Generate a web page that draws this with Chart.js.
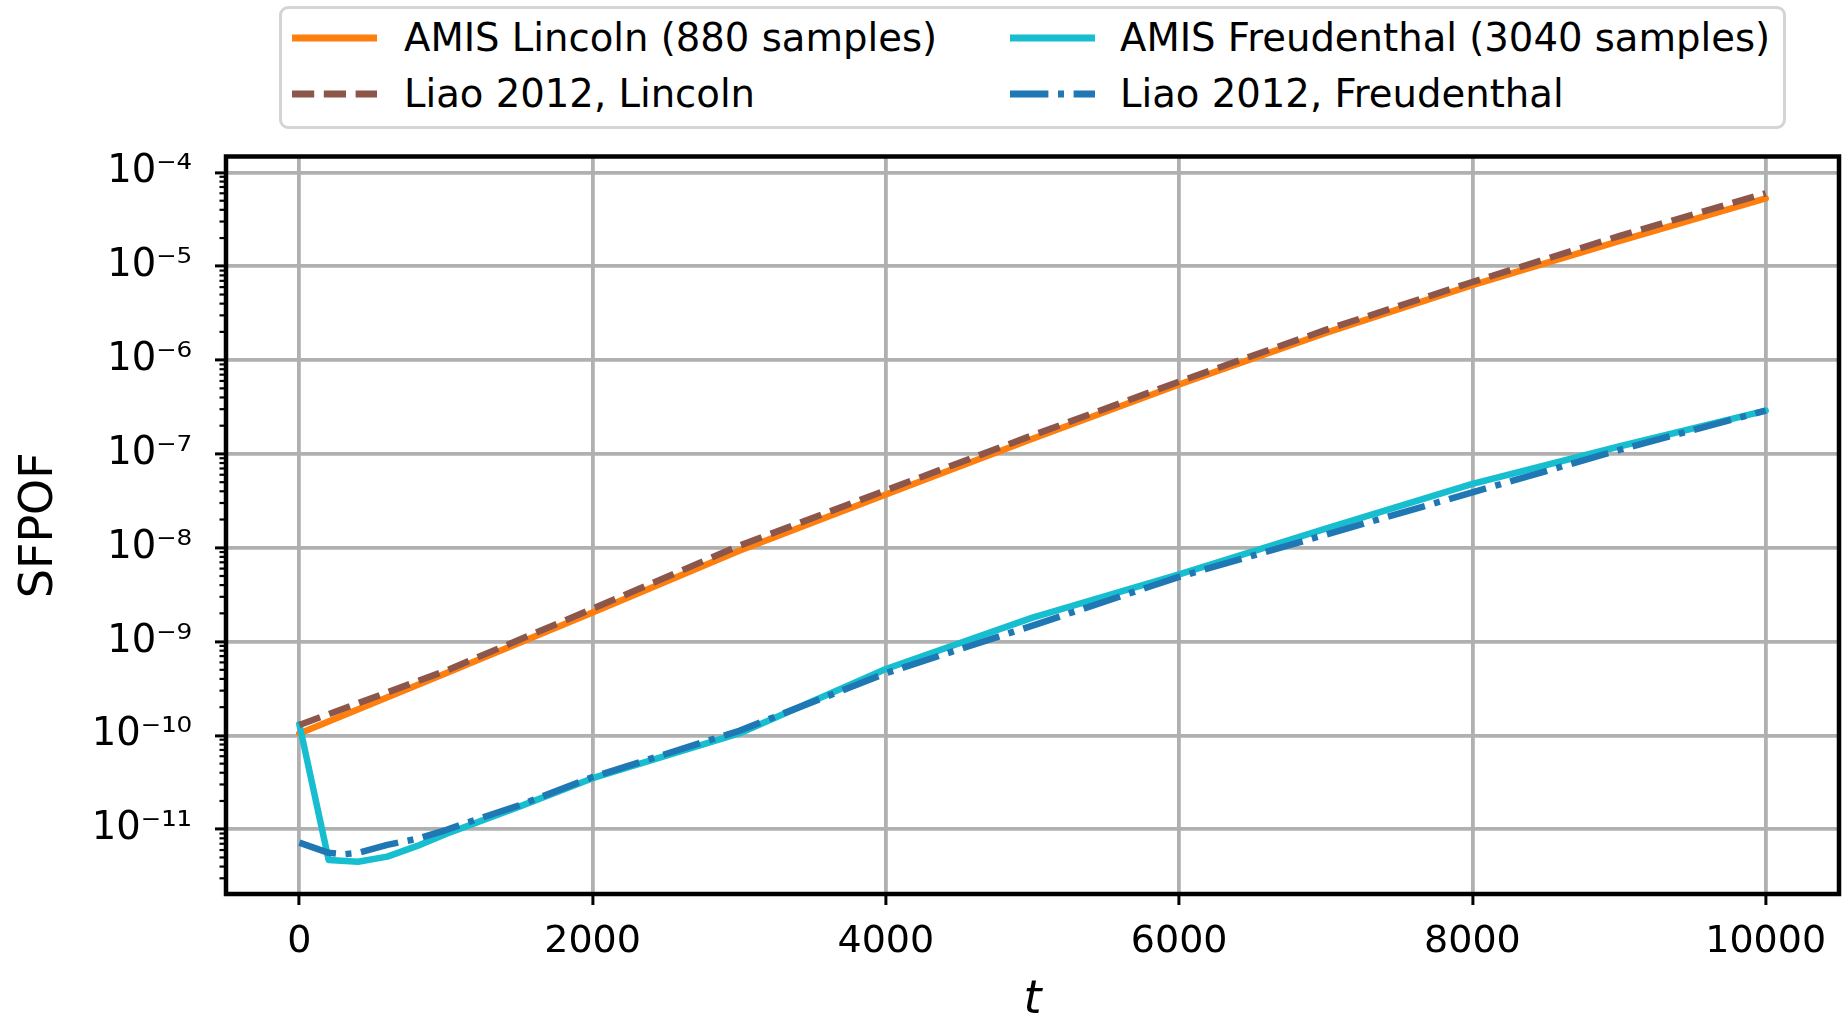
<!DOCTYPE html>
<html>
<head>
<meta charset="utf-8">
<script src="https://cdn.jsdelivr.net/npm/chart.js@4.4.0/dist/chart.umd.min.js"></script>
<style>
html,body{margin:0;padding:0;background:#fff;}
#wrap{position:relative;width:1845px;height:1023px;overflow:hidden;}
canvas{display:block;}
#legendBox{position:absolute;left:279px;top:6px;width:1507px;height:123px;box-sizing:border-box;border:3px solid #d4d4d4;border-radius:9px;background:#fff;}
.lg{position:absolute;white-space:nowrap;font-family:'DejaVu Sans';font-size:38.6px;line-height:normal;color:#000;}
.lh{position:absolute;width:85px;height:20px;}
</style>
</head>
<body>
<div id="wrap">
<canvas id="c" width="1845" height="1023"></canvas>
<div id="legendBox"></div>
<svg class="lh" style="left:292px;top:28px" width="85" height="20"><line x1="0" y1="10" x2="85" y2="10" stroke="#ff7f0e" stroke-width="7"/></svg>
<div class="lg" style="left:404px;top:15px">AMIS Lincoln (880 samples)</div>
<svg class="lh" style="left:1010px;top:28px" width="85" height="20"><line x1="0" y1="10" x2="85" y2="10" stroke="#17becf" stroke-width="7"/></svg>
<div class="lg" style="left:1120px;top:15px">AMIS Freudenthal (3040 samples)</div>
<svg class="lh" style="left:292px;top:84px" width="85" height="20"><line x1="0" y1="10" x2="85" y2="10" stroke="#8c564b" stroke-width="7" stroke-dasharray="22.2 9.6"/></svg>
<div class="lg" style="left:404px;top:71px">Liao 2012, Lincoln</div>
<svg class="lh" style="left:1010px;top:84px" width="85" height="20"><line x1="0" y1="10" x2="85" y2="10" stroke="#1f77b4" stroke-width="7" stroke-dasharray="38.4 9.6 6 9.6"/></svg>
<div class="lg" style="left:1120px;top:71px">Liao 2012, Freudenthal</div>
</div>
<script>
// ---- data ----
const tLincoln = [0, 1000, 2000, 3000, 4000, 5000, 6000, 7000, 8000, 9000, 10000];
const amisLincoln = [1.05e-10, 4.6e-10, 2.04e-9, 9.3e-9, 3.7e-8, 1.45e-7, 5.5e-7, 1.95e-6, 6.3e-6, 1.85e-5, 5.3e-5];
const liaoLincoln = [1.29e-10, 4.9e-10, 2.24e-9, 1.05e-8, 4.1e-8, 1.58e-7, 5.9e-7, 2.1e-6, 6.8e-6, 2.1e-5, 6.0e-5];

const tAmisFreud = [0, 200, 400, 600, 800, 1000, 1500, 2000, 3000, 4000, 5000, 6000, 7000, 8000, 9000, 10000];
const amisFreud = [1.32e-10, 4.7e-12, 4.5e-12, 5.1e-12, 6.6e-12, 8.9e-12, 1.74e-11, 3.5e-11, 1.05e-10, 5.1e-10, 1.8e-9, 5.2e-9, 1.6e-8, 4.8e-8, 1.2e-7, 2.9e-7];

const tLiaoFreud = [0, 200, 300, 400, 600, 800, 1000, 1200, 1500, 2000, 3000, 4000, 5000, 6000, 7000, 8000, 9000, 10000];
const liaoFreud = [7.2e-12, 5.6e-12, 5.4e-12, 5.6e-12, 6.8e-12, 7.9e-12, 9.8e-12, 1.26e-11, 1.8e-11, 3.6e-11, 1.12e-10, 4.6e-10, 1.48e-9, 4.9e-9, 1.38e-8, 3.9e-8, 1.1e-7, 2.9e-7];

const xTicks = [0, 2000, 4000, 6000, 8000, 10000];
const yTickExps = [-11, -10, -9, -8, -7, -6, -5, -4];
const minorMult = [2, 3, 4, 5, 6, 7, 8, 9];

const xMin = -500, xMax = 10500;
const yMin = 2.04e-12, yMax = 1.48e-4;

// ---- helpers ----
const SUP = {'-':'\u207B','0':'\u2070','1':'\u00B9','2':'\u00B2','3':'\u00B3','4':'\u2074','5':'\u2075','6':'\u2076','7':'\u2077','8':'\u2078','9':'\u2079'};
function fmtPow(v){
  const e = Math.round(Math.log10(v));
  return '10' + String(e).split('').map(c => SUP[c]).join('');
}
function mk(label, xs, ys, color, dash){
  return {
    label, data: xs.map((x, i) => ({x, y: ys[i]})),
    borderColor: color, backgroundColor: color, borderWidth: 6.5,
    borderDash: dash, borderCapStyle: dash.length ? 'butt' : 'round',
    borderJoinStyle: 'round', pointRadius: 0, tension: 0, fill: false
  };
}

const framePlugin = {
  id: 'frame',
  afterDatasetsDraw(chart){
    const {ctx, chartArea: a, scales: {y}} = chart;
    ctx.save();
    ctx.strokeStyle = '#000';
    ctx.lineWidth = 2.2;
    for (let e = yTickExps[0] - 1; e <= yTickExps[yTickExps.length - 1]; e++){
      for (const k of minorMult){
        const v = k * Math.pow(10, e);
        if (v < y.min || v > y.max) continue;
        const py = y.getPixelForValue(v);
        ctx.beginPath();
        ctx.moveTo(a.left, py);
        ctx.lineTo(a.left - 6.5, py);
        ctx.stroke();
      }
    }
    ctx.lineWidth = 4.5;
    ctx.strokeRect(a.left, a.top, a.right - a.left, a.bottom - a.top);
    ctx.restore();
  }
};

const gridOpts = {color: '#b0b0b0', lineWidth: 3.8, tickColor: '#000', tickWidth: 3, tickLength: 11};

new Chart(document.getElementById('c'), {
  type: 'line',
  data: {
    datasets: [
      mk('Liao 2012, Freudenthal', tLiaoFreud, liaoFreud, '#1f77b4', [38.4, 9.6, 6, 9.6]),
      mk('Liao 2012, Lincoln', tLincoln, liaoLincoln, '#8c564b', [22.2, 9.6]),
      mk('AMIS Freudenthal (3040 samples)', tAmisFreud, amisFreud, '#17becf', []),
      mk('AMIS Lincoln (880 samples)', tLincoln, amisLincoln, '#ff7f0e', [])
    ]
  },
  options: {
    responsive: false, animation: false, devicePixelRatio: 1,
    layout: {padding: {top: 156.5, right: 6, bottom: 0, left: 0}},
    plugins: {legend: {display: false}, tooltip: {enabled: false}},
    scales: {
      x: {
        type: 'linear', min: xMin, max: xMax,
        afterFit(s){ s.height = 129; },
        afterBuildTicks(s){ s.ticks = xTicks.map(v => ({value: v})); },
        ticks: {font: {family: 'DejaVu Sans', size: 38}, color: '#000', padding: 14, maxRotation: 0, autoSkip: false, callback: v => String(v)},
        grid: gridOpts,
        border: {display: false},
        title: {display: true, text: 't', color: '#000', font: {family: 'DejaVu Sans', size: 46, style: 'italic', lineHeight: 0.935}, padding: {top: 0, bottom: 0}}
      },
      y: {
        type: 'logarithmic', min: yMin, max: yMax,
        afterFit(s){ s.width = 226; },
        afterBuildTicks(s){ s.ticks = yTickExps.map(e => ({value: Math.pow(10, e), major: true})); },
        ticks: {font: {family: 'DejaVu Sans', size: 38.5}, color: '#000', padding: 23, autoSkip: false, callback: v => fmtPow(v)},
        grid: gridOpts,
        border: {display: false},
        title: {display: true, text: 'SFPOF', color: '#000', font: {family: 'DejaVu Sans', size: 46, lineHeight: 1}, padding: {top: 17, bottom: 0}}
      }
    }
  },
  plugins: [framePlugin]
});
</script>
</body>
</html>
